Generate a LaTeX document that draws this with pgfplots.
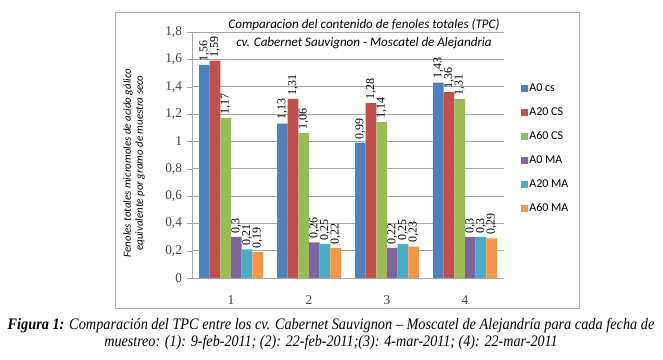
\documentclass[border=0pt]{standalone}
\usepackage{graphicx}
\usepackage{pgfplots}
\pgfplotsset{compat=1.18}
\usepackage{fontspec}
\setmainfont{Liberation Serif}
\newfontfamily\calfont{Carlito}
\definecolor{c1}{HTML}{4F81BD}
\definecolor{c2}{HTML}{C0504D}
\definecolor{c3}{HTML}{9BBB59}
\definecolor{c4}{HTML}{8064A2}
\definecolor{c5}{HTML}{4BACC6}
\definecolor{c6}{HTML}{F79646}
\begin{document}
\begin{tikzpicture}[x=0.75pt,y=0.75pt]
\useasboundingbox (0,0) rectangle (663,360);
\draw[gray!60, line width=0.75pt] (115,51) rectangle (579,347);
\begin{axis}[
  at={(144pt,61.5pt)}, anchor=south west,
  scale only axis, width=234pt, height=184.5pt,
  ybar=0pt, bar width=8pt,
  xmin=0.5, xmax=4.5, ymin=0, ymax=1.8,
  xtick={1,2,3,4},
  x tick style={draw=none},
  extra x ticks={0.5,1.5,2.5,3.5,4.5},
  extra x tick labels={},
  extra x tick style={grid=none, tick style={draw=gray!70}},
  ytick={0,0.2,0.4,0.6,0.8,1,1.2,1.4,1.6,1.8},
  y tick style={draw=gray!70},
  major tick length=4pt,
  tick align=outside,
  ymajorgrids, grid style={gray!70, line width=0.6pt},
  axis x line*=bottom, axis y line*=left,
  axis line style={gray!70, -, line width=0.6pt},
  /pgf/number format/.cd, use comma, fixed, precision=2, assume math mode=true,
  /pgfplots/.cd,
  tick label style={font=\fontsize{10}{12}\selectfont, color=black!75},
  xticklabel style={yshift=-6pt},
  nodes near coords,
  every node near coord/.append style={rotate=90, anchor=west, font=\fontsize{9}{10}\selectfont, inner sep=2.5pt},
  legend style={at={(1.042,0.813)}, anchor=north west, draw=none, fill=none,
    font=\calfont\fontsize{9}{11}\selectfont, row sep=7pt,
    nodes={inner sep=1pt, text height=7pt, text depth=2pt}},
  legend cell align=left,
  legend image code/.code={\fill[#1] (0pt,-2.5pt) rectangle (5pt,2.5pt);},
]
\addplot[fill=c1, draw=none] coordinates {(1,1.56) (2,1.13) (3,0.99) (4,1.43)};
\addplot[fill=c2, draw=none] coordinates {(1,1.59) (2,1.31) (3,1.28) (4,1.36)};
\addplot[fill=c3, draw=none] coordinates {(1,1.17) (2,1.06) (3,1.14) (4,1.31)};
\addplot[fill=c4, draw=none] coordinates {(1,0.3) (2,0.26) (3,0.22) (4,0.3)};
\addplot[fill=c5, draw=none] coordinates {(1,0.21) (2,0.25) (3,0.25) (4,0.3)};
\addplot[fill=c6, draw=none] coordinates {(1,0.19) (2,0.22) (3,0.23) (4,0.29)};
\legend{A0 cs, A20 CS, A60 CS, A0 MA, A20 MA, A60 MA}
\end{axis}
\node[align=center, font=\calfont\itshape\fontsize{9.8}{13.5}\selectfont] at (364,326)
  {Comparacion del contenido de fenoles totales (TPC)\\cv. Cabernet Sauvignon - Moscatel de Alejandria};
\node[rotate=90, align=center, font=\calfont\itshape\fontsize{8.2}{9}\selectfont] at (134,197)
  {Fenoles totales micromoles de acido gálico\\equivalente por gramo de muestra seco};
\node[font=\itshape\fontsize{12}{13}\selectfont, inner sep=0pt] at (331,34)
  {\resizebox{485pt}{\height}{\textbf{Figura 1:} Comparación del TPC entre los cv. Cabernet Sauvignon – Moscatel de Alejandría para cada fecha de}};
\node[font=\itshape\fontsize{12}{13}\selectfont, inner sep=0pt] at (331,17)
  {\resizebox{340pt}{\height}{muestreo: (1): 9-feb-2011; (2): 22-feb-2011;(3): 4-mar-2011; (4): 22-mar-2011}};
\end{tikzpicture}
\end{document}
